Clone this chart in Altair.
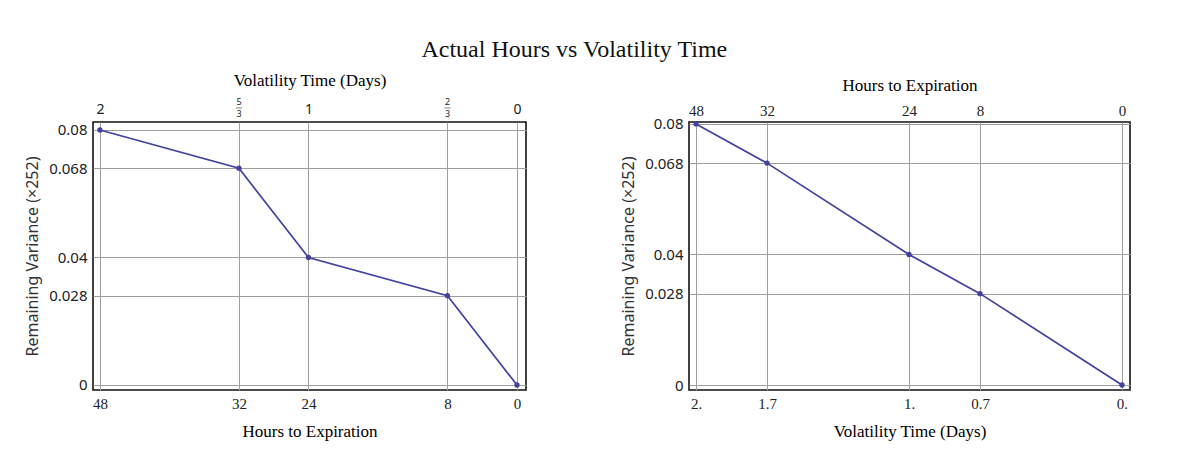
import altair as alt
import pandas as pd

# ---- data ----
hours = [48, 32, 24, 8, 0]
vol_days = [2, 5 / 3, 1, 2 / 3, 0]
variance = [0.08, 0.068, 0.04, 0.028, 0.0]

y_ticks = [0, 0.028, 0.04, 0.068, 0.08]
y_tick_labels = ["0", "0.028", "0.04", "0.068", "0.08"]

hours_labels = ["48", "32", "24", "8", "0"]
vol_labels_left = ["2", "", "1", "", "0"]          # plain top labels on the left panel
frac_num = ["5", "2"]                                # stacked fractions on the left panel
frac_den = ["3", "3"]
frac_hours = [32, 8]
vol_labels_right = ["2.", "1.7", "1.", "0.7", "0."]

df = pd.DataFrame({"hours": hours, "vol": vol_days, "var": variance})
frac_df = pd.DataFrame({"hours": frac_hours, "num": frac_num, "den": frac_den})

LINE = "#4141a0"
GRID = "#9e9e9e"
SERIF = "Liberation Serif"
SANS = "Noto Sans"


def label_expr(values, labels):
    expr = "''"
    for v, lab in zip(values, labels):
        expr = f"abs(datum.value - {v!r}) < 1e-6 ? '{lab}' : ({expr})"
    return expr


def y_enc(domain):
    return alt.Y(
        "var:Q",
        scale=alt.Scale(domain=domain, zero=False, nice=False),
        axis=alt.Axis(
            values=y_ticks,
            labelExpr=label_expr(y_ticks, y_tick_labels),
            title="Remaining Variance (×252)",
            titleFont=SANS, titleFontSize=16, titleFontWeight="normal", titleColor="#333333",
            titlePadding=8,
            labelFont=SANS, labelFontSize=15, labelColor="#222222", labelPadding=6,
            ticks=False, domain=False, grid=True, gridColor=GRID, gridOpacity=1, gridWidth=1,
        ),
    )


# ---------------- left panel ----------------
xs_left = alt.Scale(domain=[-1.04, 48.8], reverse=True, nice=False, zero=False)
y_left = y_enc([-0.00157, 0.0825])

left_line = alt.Chart(df).mark_line(color=LINE, strokeWidth=1.7).encode(
    x=alt.X("hours:Q", scale=xs_left,
            axis=alt.Axis(orient="bottom", values=hours, labelExpr=label_expr(hours, hours_labels),
                          title="Hours to Expiration", titleFont=SERIF, titleFontSize=17,
                          titleFontWeight="normal", titlePadding=12,
                          labelFont=SERIF, labelFontSize=15, labelColor="#222222", labelPadding=6,
                          ticks=False, domain=False, grid=True, gridColor=GRID, gridOpacity=1)),
    y=y_left,
)
left_pts = alt.Chart(df).mark_point(color=LINE, filled=True, size=28, opacity=1).encode(
    x=alt.X("hours:Q", scale=xs_left,
            axis=alt.Axis(orient="top", values=hours, labelExpr=label_expr(hours, vol_labels_left),
                          title="Volatility Time (Days)", titleFont=SERIF, titleFontSize=17,
                          titleFontWeight="normal", titlePadding=13,
                          labelFont=SANS, labelFontSize=14, labelColor="#222222", labelPadding=6,
                          ticks=False, domain=False, grid=False)),
    y=y_left,
)
num_txt = alt.Chart(frac_df).mark_text(font=SANS, fontSize=9, color="#222222", baseline="middle").encode(
    x=alt.X("hours:Q", scale=xs_left, axis=None), y=alt.value(-20), text="num:N")
den_txt = alt.Chart(frac_df).mark_text(font=SANS, fontSize=9, color="#222222", baseline="middle").encode(
    x=alt.X("hours:Q", scale=xs_left, axis=None), y=alt.value(-8), text="den:N")
bar_tick = alt.Chart(frac_df).mark_tick(orient="horizontal", size=6, thickness=0.8, color="#222222").encode(
    x=alt.X("hours:Q", scale=xs_left, axis=None), y=alt.value(-14))

left = alt.layer(left_line, left_pts, num_txt, den_txt, bar_tick).resolve_axis(x="independent").properties(
    width=433, height=268)

# ---------------- right panel ----------------
xs_right = alt.Scale(domain=[-0.0376, 2.033], reverse=True, nice=False, zero=False)
y_right = y_enc([-0.00153, 0.0806])

right_line = alt.Chart(df).mark_line(color=LINE, strokeWidth=1.7).encode(
    x=alt.X("vol:Q", scale=xs_right,
            axis=alt.Axis(orient="bottom", values=vol_days, labelExpr=label_expr(vol_days, vol_labels_right),
                          title="Volatility Time (Days)", titleFont=SERIF, titleFontSize=17,
                          titleFontWeight="normal", titlePadding=12,
                          labelFont=SERIF, labelFontSize=15, labelColor="#222222", labelPadding=6,
                          ticks=False, domain=False, grid=True, gridColor=GRID, gridOpacity=1)),
    y=y_right,
)
right_pts = alt.Chart(df).mark_point(color=LINE, filled=True, size=28, opacity=1).encode(
    x=alt.X("vol:Q", scale=xs_right,
            axis=alt.Axis(orient="top", values=vol_days, labelExpr=label_expr(vol_days, hours_labels),
                          title="Hours to Expiration", titleFont=SERIF, titleFontSize=17,
                          titleFontWeight="normal", titlePadding=9,
                          labelFont=SERIF, labelFontSize=15, labelColor="#222222", labelPadding=4,
                          ticks=False, domain=False, grid=False)),
    y=y_right,
)
right = alt.layer(right_line, right_pts).resolve_axis(x="independent").properties(width=441, height=268)

chart = alt.hconcat(left, right, spacing=92).properties(
    title=alt.TitleParams("Actual Hours vs Volatility Time", font=SERIF, fontSize=24,
                          fontWeight="normal", color="#111111", anchor="middle", offset=8, dx=-3),
    padding={"left": 15, "top": 30, "right": 5, "bottom": 5},
    background="white",
).configure_view(stroke="#111111", strokeWidth=1.6)

chart.save("out.html", embed_options={"renderer": "svg", "actions": False})
